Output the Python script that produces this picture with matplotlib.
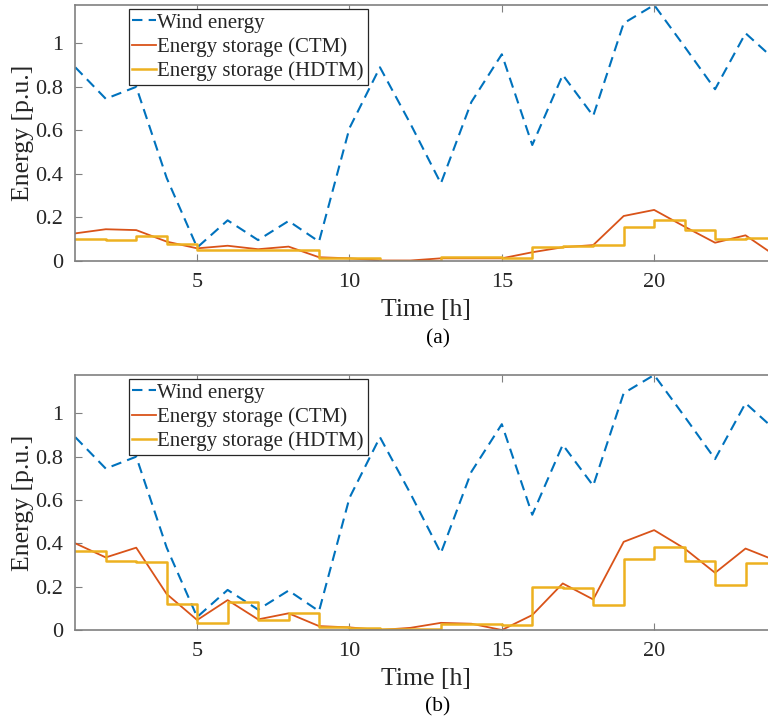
import numpy as np
import matplotlib
matplotlib.use('Agg')
import matplotlib.pyplot as plt

plt.rcParams['font.family'] = ['Liberation Serif', 'DejaVu Serif']

hours = np.arange(1, 25)

wind = [0.89, 0.745, 0.80, 0.38, 0.06, 0.185, 0.094, 0.182, 0.087, 0.61, 0.89, 0.63,
        0.355, 0.73, 0.95, 0.532, 0.855, 0.666, 1.093, 1.177, 0.985, 0.789, 1.047, 0.92]

# panel (a)
ctm_a = [0.125, 0.144, 0.14, 0.087, 0.056, 0.068, 0.052, 0.064, 0.015, 0.01, 0.0, 0.0,
         0.01, 0.01, 0.01, 0.038, 0.061, 0.071, 0.205, 0.233, 0.156, 0.082, 0.116, 0.02]
hdtm_a = [0.10, 0.095, 0.115, 0.076, 0.048, 0.05, 0.05, 0.048, 0.012, 0.012, 0.0, 0.0,
          0.015, 0.015, 0.012, 0.062, 0.067, 0.07, 0.156, 0.187, 0.14, 0.1, 0.104, 0.104]

# panel (b)
ctm_b = [0.40, 0.335, 0.38, 0.166, 0.046, 0.138, 0.049, 0.077, 0.018, 0.012, 0.0, 0.01,
         0.033, 0.029, 0.0, 0.069, 0.215, 0.141, 0.407, 0.461, 0.376, 0.264, 0.376, 0.32]
hdtm_b = [0.364, 0.32, 0.312, 0.12, 0.031, 0.127, 0.046, 0.077, 0.015, 0.011, 0.004, 0.006,
          0.026, 0.026, 0.022, 0.2, 0.195, 0.115, 0.33, 0.381, 0.32, 0.21, 0.307, 0.307]

yticks = [0, 0.2, 0.4, 0.6, 0.8, 1]
ytick_labels = ['0', '0.2', '0.4', '0.6', '0.8', '1']
xticks = [5, 10, 15, 20]

c_wind = '#0072BD'
c_ctm = '#D95319'
c_hdtm = '#EDB120'
c_axis = '#808080'
c_text = '#262626'

W, H = 768, 724
fig = plt.figure(figsize=(W / 100, H / 100), dpi=100)

def px_axes(left, top, right, bottom):
    return fig.add_axes([left / W, 1 - bottom / H, (right - left) / W, (bottom - top) / H])

ax_a = px_axes(75.3, 5, 776, 260.5)
ax_b = px_axes(75.3, 375, 776, 630)

for ax, ctm, hdtm in [(ax_a, ctm_a, hdtm_a), (ax_b, ctm_b, hdtm_b)]:
    ax.plot(hours, wind, color=c_wind, lw=1.5, dashes=(5, 3), label='Wind energy')
    ax.plot(hours, ctm, color=c_ctm, lw=1.3, label='Energy storage (CTM)')
    ax.step(hours, hdtm, where='post', color=c_hdtm, lw=1.8, label='Energy storage (HDTM)')
    ax.set_xlim(1, 24)
    ax.set_ylim(0, 1.177)
    ax.set_xticks(xticks)
    ax.set_yticks(yticks)
    ax.set_yticklabels(ytick_labels)
    ax.tick_params(direction='in', top=True, right=True, length=5, width=0.8,
                   color=c_axis, labelsize=16, labelcolor=c_text, pad=9)
    for s in ax.spines.values():
        s.set_color(c_axis)
        s.set_linewidth(1.2)
    ax.set_ylabel('Energy [p.u.]', fontsize=18.5, color=c_text, va='center')
    ax.yaxis.set_label_coords(-0.0746, 0.5)
    ax.set_xlabel('Time [h]', fontsize=18.5, color=c_text, va='center')
    ax.xaxis.set_label_coords(0.5, -0.194)
    leg = ax.legend(loc='upper left', bbox_to_anchor=(0.076, 0.983), fontsize=15,
                    handlelength=1.15, handletextpad=0.05, borderpad=0.18,
                    labelspacing=0.22, borderaxespad=0, fancybox=False, framealpha=1)
    leg.get_frame().set_edgecolor(c_text)
    leg.get_frame().set_linewidth(0.9)
    for t in leg.get_texts():
        t.set_color(c_text)

fig.text(438 / W, 1 - 339 / H, '(a)', ha='center', va='center', fontsize=15.5, color='black')
fig.text(438 / W, 1 - 707 / H, '(b)', ha='center', va='center', fontsize=15.5, color='black')

fig.savefig('out.png', dpi=100)
